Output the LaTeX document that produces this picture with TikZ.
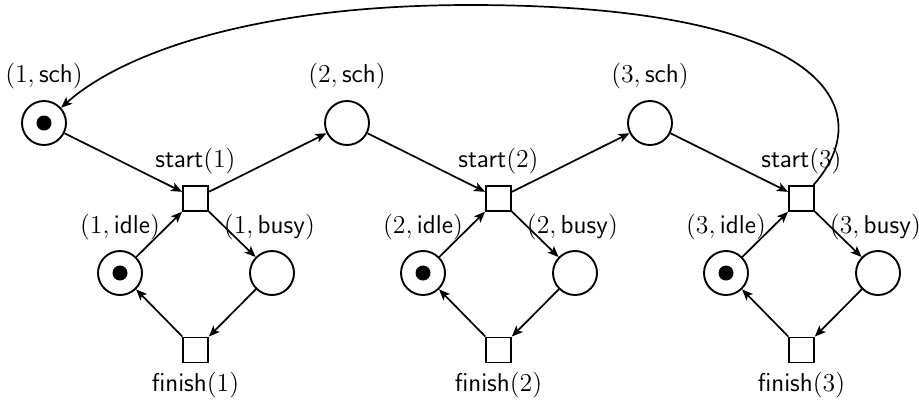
\documentclass[tikz,border=0pt]{standalone}
\usepackage{fix-cm}
\usetikzlibrary{arrows.meta}
\begin{document}
\begin{tikzpicture}[x=0.5pt,y=-0.5pt,
  place/.style={circle,draw,line width=0.95pt,minimum size=22pt,inner sep=0pt},
  trans/.style={rectangle,draw,line width=0.95pt,minimum size=12.5pt,inner sep=0pt},
  token/.style={circle,fill=black,minimum size=7.5pt,inner sep=0pt},
  arc/.style={-{Stealth[length=5.5pt,width=4.5pt,inset=1.3pt]},line width=0.85pt},
  lbl/.style={inner sep=0pt,font=\fontsize{12.9}{15}\selectfont}]
\useasboundingbox (0,0) rectangle (919,404);
\foreach \i in {1,2,3}{
  \pgfmathsetmacro{\dx}{303*(\i-1)}
  \node[place] (sch\i) at (44+\dx,123) {};
  \node[trans] (st\i) at (195.5+\dx,198.5) {};
  \node[place] (idle\i) at (120+\dx,273) {};
  \node[place] (busy\i) at (272+\dx,273) {};
  \node[trans] (fin\i) at (195.5+\dx,350) {};
  \node[lbl] (lsch\i) at (44+\dx,76) {$(\i,\mathsf{sch})$};
  \node[lbl] (lst\i) at (195.5+\dx,161) {$\mathsf{start}(\i)$};
  \node[lbl] (lidle\i) at (120+\dx,227) {$(\i,\mathsf{idle})$};
  \node[lbl] (lbusy\i) at (269.5+\dx,227) {$(\i,\mathsf{busy})$};
  \node[lbl] (lfin\i) at (195.5+\dx,385) {$\mathsf{finish}(\i)$};
  \node[token] (ti\i) at (idle\i) {};
  \draw[arc] (sch\i) -- (st\i);
  \draw[arc] (idle\i) -- (st\i);
  \draw[arc] (st\i) -- (busy\i);
  \draw[arc] (busy\i) -- (fin\i);
  \draw[arc] (fin\i) -- (idle\i);
}
\node[token] (ts1) at (sch1) {};
\draw[arc] (st1) -- (sch2);
\draw[arc] (st2) -- (sch3);
\coordinate (top) at (470,5);
\draw[arc] (st3) .. controls (880,110) and (830,5) .. (top)
  .. controls (250,5) and (120,55) .. (sch1);
\end{tikzpicture}
\end{document}
